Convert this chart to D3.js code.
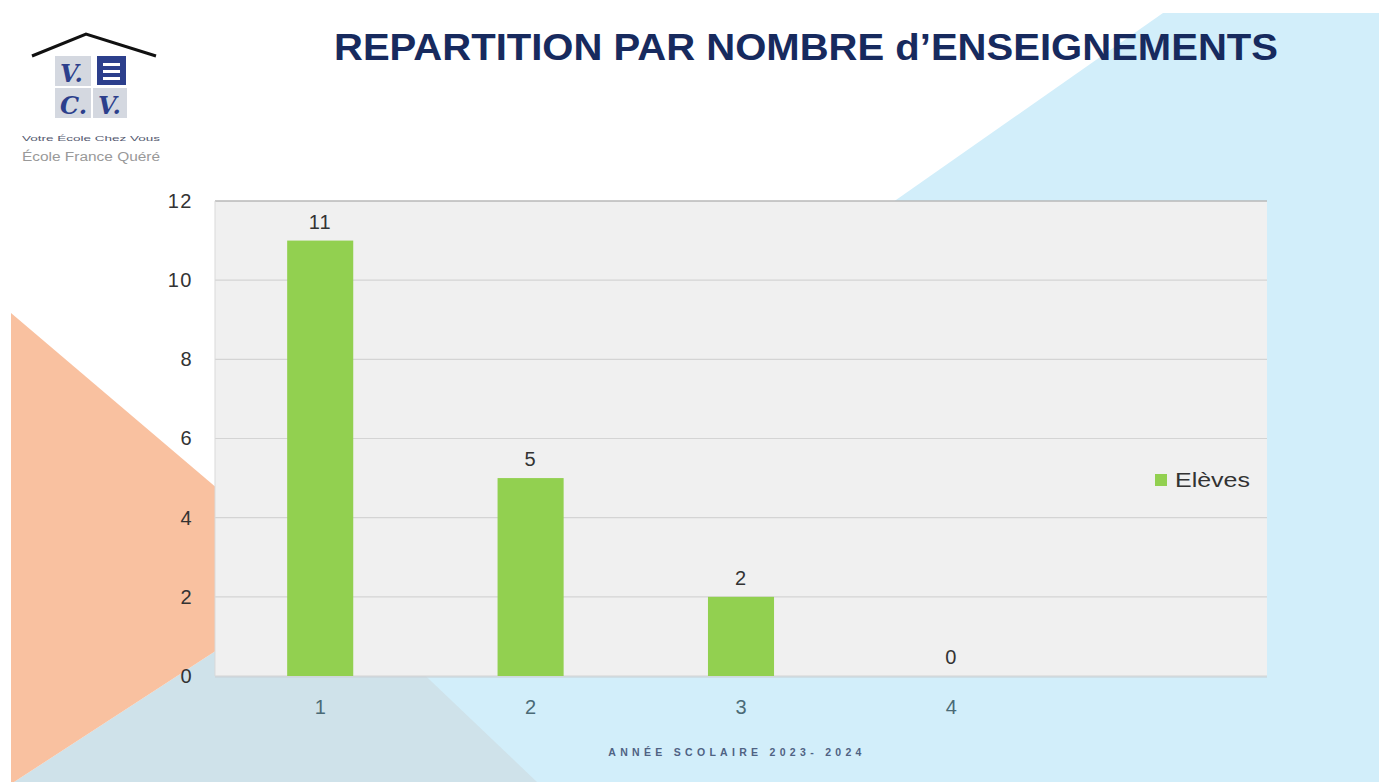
<!DOCTYPE html>
<html>
<head>
<meta charset="utf-8">
<script src="https://cdn.jsdelivr.net/npm/d3@7"></script>
<style>
  body { margin: 0; background: #fff; }
  svg { display: block; font-family: "Liberation Sans", Arial, sans-serif; }
</style>
</head>
<body>
<div id="chart"></div>
<script>
// data
const categories = ["1", "2", "3", "4"];
const eleves = [11, 5, 2, 0];
const seriesName = "Elèves";
const yTicks = [0, 2, 4, 6, 8, 10, 12];
const title = "REPARTITION PAR NOMBRE d\u2019ENSEIGNEMENTS";
const footer = "ANNÉE SCOLAIRE 2023- 2024";

const width = 1379, height = 782;
const plot = { left: 215, right: 1267, top: 201, bottom: 676 };
const bandW = (plot.right - plot.left) / 5;

const svg = d3.select('#chart')
  .append('svg')
  .attr('width', width)
  .attr('height', height);

// background shapes of the slide
const bg = svg.append('g');
bg.append('rect').attr('x', 11).attr('y', 13).attr('width', width - 11).attr('height', height - 13).attr('fill', '#ffffff');
bg.append('polygon')
  .attr('points', '1163,13 1379,13 1379,782 65,782')
  .attr('fill', '#d2eefa');
bg.append('polygon')
  .attr('points', '14,782 325,580 537,782')
  .attr('fill', '#cfe2ea');
bg.append('polygon')
  .attr('points', '11,313 325,580 14,782 11,782')
  .attr('fill', '#f9c1a0');

// title
svg.append('text')
  .attr('x', 334).attr('y', 60)
  .attr('textLength', 944)
  .attr('lengthAdjust', 'spacingAndGlyphs')
  .style('font-size', '37px')
  .style('font-weight', 'bold')
  .style('fill', '#172a5e')
  .text(title);

// logo (simplified)
const logo = svg.append('g');
logo.append('path')
  .attr('d', 'M32,56 L86,34 L156,56')
  .attr('fill', 'none').attr('stroke', '#111').attr('stroke-width', 3);
logo.append('rect').attr('x', 55).attr('y', 56).attr('width', 36).attr('height', 30).attr('fill', '#d4d8e0');
logo.append('rect').attr('x', 55).attr('y', 88).attr('width', 36).attr('height', 30).attr('fill', '#d4d8e0');
logo.append('rect').attr('x', 93).attr('y', 88).attr('width', 34).attr('height', 30).attr('fill', '#d4d8e0');
logo.append('rect').attr('x', 97).attr('y', 56).attr('width', 29).attr('height', 29).attr('fill', '#2c3f8c');
[63, 70, 77].forEach(y => {
  logo.append('rect').attr('x', 103).attr('y', y).attr('width', 17).attr('height', 3).attr('fill', '#fff');
});
[['V.', 60, 82], ['C.', 60, 114], ['V.', 98, 114]].forEach(([t, x, y]) => {
  logo.append('text').attr('x', x).attr('y', y)
    .style('font-family', '"DejaVu Serif", serif')
    .style('font-style', 'italic').style('font-weight', 'bold')
    .style('font-size', '24px').style('fill', '#2c3f8c').text(t);
});
logo.append('text').attr('x', 22).attr('y', 141)
  .attr('textLength', 138).attr('lengthAdjust', 'spacingAndGlyphs')
  .style('font-size', '7.5px').style('fill', '#555a70')
  .text('Votre École Chez Vous');
logo.append('text').attr('x', 22).attr('y', 161)
  .attr('textLength', 138).attr('lengthAdjust', 'spacingAndGlyphs')
  .style('font-size', '12px').style('fill', '#999')
  .text('École France Quéré');

// scales
const x = d3.scaleBand()
  .domain(categories)
  .range([plot.left, plot.left + bandW * categories.length])
  .paddingInner(0.686)
  .paddingOuter(0.343);

const y = d3.scaleLinear()
  .domain([0, 12])
  .range([plot.bottom, plot.top]);

// plot area
svg.append('rect')
  .attr('x', plot.left).attr('y', plot.top + 2)
  .attr('width', plot.right - plot.left).attr('height', plot.bottom - plot.top)
  .attr('fill', '#c9d3d8').attr('opacity', 0.6);
svg.append('rect')
  .attr('x', plot.left).attr('y', plot.top)
  .attr('width', plot.right - plot.left).attr('height', plot.bottom - plot.top)
  .attr('fill', '#f0f0f0');

// gridlines
svg.append('g')
  .selectAll('line')
  .data(yTicks)
  .enter()
  .append('line')
  .attr('x1', plot.left).attr('x2', plot.right)
  .attr('y1', d => y(d)).attr('y2', d => y(d))
  .attr('stroke', d => d === 12 ? '#b8b8b8' : '#d4d4d4')
  .attr('stroke-width', d => d === 12 ? 1.5 : 1.2);
svg.append('line')
  .attr('x1', plot.left).attr('x2', plot.left)
  .attr('y1', plot.top).attr('y2', plot.bottom)
  .attr('stroke', '#d9d9d9');

// y axis labels
const yAxis = svg.append('g')
  .attr('transform', `translate(${plot.left - 22},0)`)
  .call(d3.axisLeft(y).tickValues(yTicks).tickSize(0).tickPadding(0));
yAxis.select('.domain').remove();
yAxis.selectAll('text')
  .style('font-size', '20px')
  .style('letter-spacing', '1.5px')
  .style('font-family', '"Liberation Sans", Arial, sans-serif')
  .style('fill', '#333');

// x axis labels
const xAxis = svg.append('g')
  .attr('transform', `translate(0,${plot.bottom + 24})`)
  .call(d3.axisBottom(x).tickSize(0).tickPadding(0));
xAxis.select('.domain').remove();
xAxis.selectAll('text')
  .attr('dy', '0.71em')
  .style('font-size', '20px')
  .style('font-family', '"Liberation Sans", Arial, sans-serif')
  .style('fill', '#4a6a76');

// bars
svg.append('g')
  .selectAll('rect')
  .data(eleves)
  .enter()
  .append('rect')
  .attr('x', (d, i) => x(categories[i]))
  .attr('y', d => y(d))
  .attr('width', x.bandwidth())
  .attr('height', d => y(0) - y(d))
  .attr('fill', '#92d050');

// value labels
svg.append('g')
  .selectAll('text')
  .data(eleves)
  .enter()
  .append('text')
  .attr('x', (d, i) => x(categories[i]) + x.bandwidth() / 2)
  .attr('y', d => y(d) - 12)
  .attr('text-anchor', 'middle')
  .style('font-size', '20px')
  .style('letter-spacing', '1px')
  .style('fill', '#333')
  .text(d => d);

// legend
const legend = svg.append('g').attr('transform', 'translate(1155,480)');
legend.append('rect')
  .attr('x', 0).attr('y', -6).attr('width', 12).attr('height', 12)
  .attr('fill', '#92d050');
legend.append('text')
  .attr('x', 20).attr('y', 0).attr('dy', '0.35em')
  .attr('textLength', 75).attr('lengthAdjust', 'spacingAndGlyphs')
  .style('font-size', '21px')
  .style('fill', '#333')
  .text(seriesName);

// footer
svg.append('text')
  .attr('x', 737).attr('y', 756)
  .attr('text-anchor', 'middle')
  .style('font-size', '10.5px')
  .style('font-weight', 'bold')
  .style('letter-spacing', '4.3px')
  .style('fill', '#4f6283')
  .text(footer);
</script>
</body>
</html>
